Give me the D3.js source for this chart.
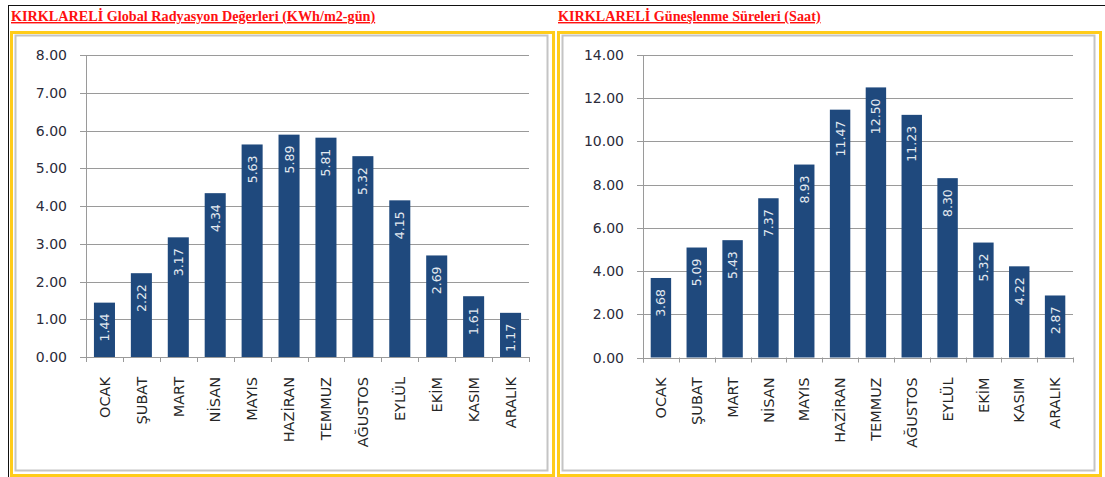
<!DOCTYPE html>
<html>
<head>
<meta charset="utf-8">
<script src="https://cdn.jsdelivr.net/npm/d3@7"></script>
<style>
  html, body { margin: 0; padding: 0; background: #fff; }
  svg { display: block; }
</style>
</head>
<body>
<svg id="chart" width="1105" height="477"></svg>
<script>
const months = ["OCAK", "ŞUBAT", "MART", "NİSAN", "MAYIS", "HAZİRAN", "TEMMUZ", "AĞUSTOS", "EYLÜL", "EKİM", "KASIM", "ARALIK"];
const radiation = [1.44, 2.22, 3.17, 4.34, 5.63, 5.89, 5.81, 5.32, 4.15, 2.69, 1.61, 1.17];
const sunshine = [3.68, 5.09, 5.43, 7.37, 8.93, 11.47, 12.50, 11.23, 8.30, 5.32, 4.22, 2.87];
const radiationTicks = [0, 1, 2, 3, 4, 5, 6, 7, 8];
const sunshineTicks = [0, 2, 4, 6, 8, 10, 12, 14];
const titleLeft = "KIRKLARELİ Global Radyasyon Değerleri (KWh/m2-gün)";
const titleRight = "KIRKLARELİ Güneşlenme Süreleri (Saat)";

const svg = d3.select("#chart");
const BAR = "#1F497D", GRID = "#9a9a9a", YEL = "#FFCC1A", FRAME = "#c4c4c4";
const FONT = "'DejaVu Sans', sans-serif";

// outer black lines (top and left)
svg.append("line").attr("x1", 8).attr("x2", 1105).attr("y1", 5.5).attr("y2", 5.5).attr("stroke", "#111").attr("stroke-width", 1);
svg.append("line").attr("x1", 8.5).attr("x2", 8.5).attr("y1", 5).attr("y2", 477).attr("stroke", "#111").attr("stroke-width", 1);

function panel(cfg) {
  const g = svg.append("g");
  // title
  g.append("text")
    .attr("x", cfg.titleX).attr("y", 21)
    .attr("font-family", "'Liberation Serif', 'Times New Roman', serif")
    .attr("font-weight", "bold")
    .attr("font-size", 14.2)
    .attr("fill", "#FF1010")
    .attr("text-decoration", "underline")
    .text(cfg.title);
  // frames
  g.append("rect").attr("x", cfg.fx + 1.5).attr("y", 32.5).attr("width", cfg.fw - 3).attr("height", 443)
    .attr("fill", "#fff").attr("stroke", YEL).attr("stroke-width", 3);
  g.append("rect").attr("x", cfg.fx + 5.5).attr("y", 35.5).attr("width", cfg.fw - 13).attr("height", 435)
    .attr("fill", "#fff").attr("stroke", FRAME).attr("stroke-width", 2);

  const x = d3.scaleBand().domain(months).range([cfg.x0, cfg.x1]).paddingInner(0.43).paddingOuter(0.215);
  const y = d3.scaleLinear().domain([0, cfg.max]).range([cfg.y0, 55]);

  // gridlines + y tick marks
  g.selectAll(".grid").data(cfg.ticks).enter().append("line")
    .attr("x1", cfg.x0 - 6).attr("x2", cfg.x1)
    .attr("y1", d => Math.round(y(d)) + 0.5).attr("y2", d => Math.round(y(d)) + 0.5)
    .attr("stroke", GRID).attr("stroke-width", 1);
  // y axis line
  g.append("line").attr("x1", cfg.x0 + 0.5).attr("x2", cfg.x0 + 0.5)
    .attr("y1", y(cfg.max)).attr("y2", cfg.y0 + 5)
    .attr("stroke", GRID).attr("stroke-width", 1);
  // y labels
  g.selectAll(".yl").data(cfg.ticks).enter().append("text")
    .attr("x", cfg.x0 - 19).attr("y", d => y(d)).attr("dy", "0.36em")
    .attr("text-anchor", "end").attr("font-family", FONT).attr("font-size", 14)
    .attr("fill", "#2b2b3a").text(d => d.toFixed(2));
  // x tick marks at band boundaries
  const step = x.step();
  g.selectAll(".xt").data(d3.range(months.length + 1)).enter().append("line")
    .attr("x1", i => Math.round(cfg.x0 + i * step) + 0.5).attr("x2", i => Math.round(cfg.x0 + i * step) + 0.5)
    .attr("y1", cfg.y0).attr("y2", cfg.y0 + 5)
    .attr("stroke", GRID).attr("stroke-width", 1);

  // bars
  g.selectAll(".bar").data(cfg.values).enter().append("rect")
    .attr("x", (d, i) => x(months[i])).attr("width", x.bandwidth())
    .attr("y", d => y(d)).attr("height", d => cfg.y0 - y(d))
    .attr("fill", BAR);
  // value labels
  g.selectAll(".vl").data(cfg.values).enter().append("text")
    .attr("transform", (d, i) => `translate(${x(months[i]) + x.bandwidth() / 2},${y(d) + 11}) rotate(-90)`)
    .attr("dy", "0.36em").attr("text-anchor", "end")
    .attr("font-family", FONT).attr("font-size", 12.5).attr("fill", "#e4e9f0")
    .text(d => d.toFixed(2));
  // category labels
  g.selectAll(".xl").data(months).enter().append("text")
    .attr("transform", d => `translate(${x(d) + x.bandwidth() / 2},${cfg.y0 + 20}) rotate(-90)`)
    .attr("dy", "0.36em").attr("text-anchor", "end")
    .attr("font-family", FONT).attr("font-size", 14.5).attr("fill", "#262626")
    .text(d => d);
}

panel({ title: titleLeft, titleX: 11, fx: 10, fw: 545, x0: 86, x1: 529, y0: 357, max: 8, ticks: radiationTicks, values: radiation });
panel({ title: titleRight, titleX: 558, fx: 557, fw: 545, x0: 643, x1: 1073, y0: 357.5, max: 14, ticks: sunshineTicks, values: sunshine });
</script>
</body>
</html>
